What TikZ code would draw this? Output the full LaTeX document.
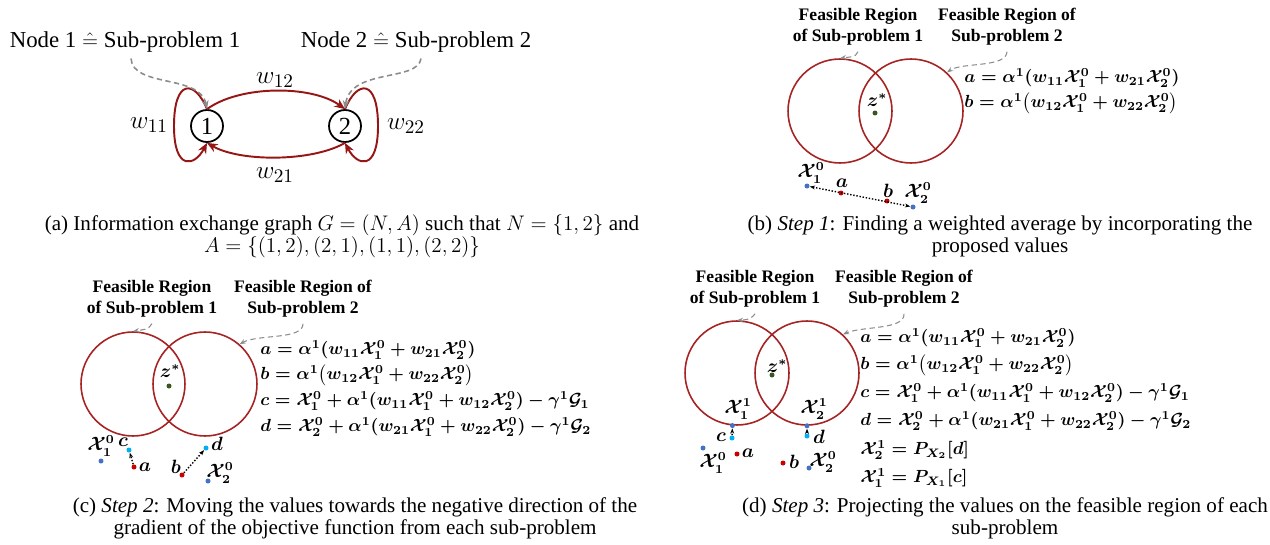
\documentclass[tikz,border=0pt]{standalone}
\usepackage{amsmath,amssymb}
\usepackage{fontspec}
\setmainfont{Liberation Serif}
\usetikzlibrary{arrows.meta,positioning}

\definecolor{arcred}{RGB}{150,22,22}
\definecolor{ringred}{RGB}{165,35,35}
\definecolor{hintgray}{RGB}{140,140,140}
\definecolor{ptblue}{RGB}{68,114,196}
\definecolor{ptcyan}{RGB}{0,176,240}
\definecolor{ptred}{RGB}{205,0,0}
\definecolor{ptgreen}{RGB}{56,87,35}

% shorthand for the proposed values
\newcommand{\Xv}[2]{\mathcal{X}_{#1}^{#2}}
\newcommand{\eqnA}{$a=\alpha^1(w_{11}\Xv{1}{0}+w_{21}\Xv{2}{0})$}
\newcommand{\eqnB}{$b=\alpha^1\bigl(w_{12}\Xv{1}{0}+w_{22}\Xv{2}{0}\bigr)$}
\newcommand{\eqnC}{$c=\Xv{1}{0}+\alpha^1(w_{11}\Xv{1}{0}+w_{12}\Xv{2}{0})-\gamma^1\mathcal{G}_1$}
\newcommand{\eqnD}{$d=\Xv{2}{0}+\alpha^1(w_{21}\Xv{1}{0}+w_{22}\Xv{2}{0})-\gamma^1\mathcal{G}_2$}
\newcommand{\eqnE}{$\Xv{2}{1}=P_{X_2}[d]$}
\newcommand{\eqnF}{$\Xv{1}{1}=P_{X_1}[c]$}

\tikzset{
  capt/.style={font=\fontsize{12}{12.6}\selectfont, align=center},
  regtitle/.style={font=\fontsize{10}{12}\selectfont\bfseries, align=center},
  region/.style={circle, draw=ringred, line width=0.9pt, minimum size=2.08cm, inner sep=0},
  hint/.style={draw=hintgray, densely dashed, line width=0.6pt, -{Stealth[length=3.5pt]}},
  ptdot/.style={circle, fill=#1, inner sep=0, minimum size=0.1cm},
  move/.style={densely dotted, line width=0.8pt, -{Stealth[length=3pt]}},
  eqn/.style={font=\fontsize{10}{12}\selectfont\boldmath, anchor=west, inner sep=0},
  ptlabel/.style={font=\fontsize{10.5}{12}\selectfont\boldmath, inner sep=0},
  gnode/.style={circle, draw, line width=1pt, minimum size=0.64cm, inner sep=0, font=\fontsize{14}{16}\selectfont},
  arc/.style={draw=arcred, line width=1.1pt, -{Stealth[length=6pt,width=5pt]}},
  wlabel/.style={font=\fontsize{15}{17}\selectfont},
}

\begin{document}
\begin{tikzpicture}[x=0.02cm, y=-0.02cm]
  \useasboundingbox (0,0) rectangle (1270,544);

  % (a) information exchange graph
  \node[font=\fontsize{13}{15}\selectfont] (lblN1) at (125,42) {Node 1 $\mathrel{\hat{=}}$ Sub-problem 1};
  \node[font=\fontsize{13}{15}\selectfont] (lblN2) at (416,42) {Node 2 $\mathrel{\hat{=}}$ Sub-problem 2};
  \node[gnode] (n1) at (207,126) {1};
  \node[gnode] (n2) at (345,126) {2};
  \draw[arc] (n1.north) .. controls (240,85) and (312,85) .. (n2.north);
  \draw[arc] (n2.south) .. controls (312,162) and (240,162) .. (n1.south);
  \draw[arc] (n1.north) .. controls (195,80) and (174,78) .. (174,126)
    .. controls (174,172) and (195,166) .. (n1.south);
  \draw[arc] (n2.north) .. controls (357,80) and (378,78) .. (378,126)
    .. controls (378,172) and (357,166) .. (n2.south);
  \node[wlabel] (w12) at (275,80) {$w_{12}$};
  \node[wlabel] (w21) at (275,175) {$w_{21}$};
  \node[wlabel] (w11) at (149,125) {$w_{11}$};
  \node[wlabel] (w22) at (406,126) {$w_{22}$};
  \draw[hint, line width=0.9pt, -{Stealth[length=5pt]}] ([xshift=0.12cm]lblN1.south) .. controls (133,88) and (200,74) .. (n1.north);
  \draw[hint, line width=0.9pt, -{Stealth[length=5pt]}] ([xshift=0.1cm]lblN2.south) .. controls (418,82) and (350,68) .. (n2.north);
  \node[capt] (captA) at (342,236) {(a) Information exchange graph $G=(N,A)$ such that $N=\{1,2\}$ and\\
    $A=\{(1,2),(2,1),(1,1),(2,2)\}$};

  % (b) step 1: weighted average
  \node[regtitle] (ttlB1) at (858,27) {Feasible Region\\of Sub-problem 1};
  \node[regtitle] (ttlB2) at (1007,27) {Feasible Region of\\Sub-problem 2};
  \node[region] (regB1) at (840,111) {};
  \node[region] (regB2) at (911,111) {};
  \draw[hint] (ttlB1.south) .. controls (856,58) and (848,57) .. (regB1.north);
  \draw[hint] (ttlB2.south) .. controls (1006,68) and (962,62) .. (regB2.47);
  \node[ptdot=ptgreen] (zB) at (875,113) {};
  \node[ptlabel] (zlabB) at (877,100) {$z^*$};
  \node[eqn] (eqB1) at (964,78) {\eqnA};
  \node[eqn] (eqB2) at (964,103) {\eqnB};
  \node[ptdot=ptblue] (x1B) at (807,186) {};
  \node[ptdot=ptred] (aB) at (841,193) {};
  \node[ptdot=ptred] (bB) at (887,201) {};
  \node[ptdot=ptblue] (x2B) at (913,207) {};
  \draw[move, {Stealth[length=3pt]}-{Stealth[length=3pt]}] (x1B) -- (x2B);
  \node[ptlabel] (x1labB) at (811,173) {$\Xv{1}{0}$};
  \node[ptlabel] (alabB) at (842,183) {$a$};
  \node[ptlabel] (blabB) at (888,191) {$b$};
  \node[ptlabel] (x2labB) at (918,193) {$\Xv{2}{0}$};
  \node[capt] (captB) at (1000,236) {(b) \textit{Step 1}: Finding a weighted average by incorporating the\\
    proposed values};

  % (c) step 2: gradient move
  \node[regtitle] (ttlC1) at (152,299) {Feasible Region\\of Sub-problem 1};
  \node[regtitle] (ttlC2) at (303,299) {Feasible Region of\\Sub-problem 2};
  \node[region] (regC1) at (133,384) {};
  \node[region] (regC2) at (205,384) {};
  \draw[hint] (ttlC1.south) .. controls (149,330) and (141,330) .. (regC1.north);
  \draw[hint] (ttlC2.south) .. controls (303,340) and (258,334) .. (regC2.49);
  \node[ptdot=ptgreen] (zC) at (169,386) {};
  \node[ptlabel] (zlabC) at (170,371) {$z^*$};
  \foreach \e/\y [count=\k] in {\eqnA/350, \eqnB/375, \eqnC/401, \eqnD/427}
    \node[eqn] (eqC\k) at (260,\y) {\e};
  \node[ptdot=ptblue] (x1C) at (101,461) {};
  \node[ptdot=ptcyan] (cC) at (129,450) {};
  \node[ptdot=ptred] (aC) at (134,467) {};
  \node[ptdot=ptred] (bC) at (182,475) {};
  \node[ptdot=ptcyan] (dC) at (206,448) {};
  \node[ptdot=ptblue] (x2C) at (208,481) {};
  \draw[move] (aC) -- (cC);
  \draw[move] (bC) -- (dC);
  \node[ptlabel] (x1labC) at (101,446) {$\Xv{1}{0}$};
  \node[ptlabel] (clabC) at (123,442) {$c$};
  \node[ptlabel] (alabC) at (145,467) {$a$};
  \node[ptlabel] (blabC) at (176,467) {$b$};
  \node[ptlabel] (dlabC) at (217,444) {$d$};
  \node[ptlabel] (x2labC) at (220,473) {$\Xv{2}{0}$};
  \node[capt] (captC) at (355,518) {(c) \textit{Step 2}: Moving the values towards the negative direction of the\\
    gradient of the objective function from each sub-problem};

  % (d) step 3: projection
  \node[regtitle] (ttlD1) at (755,289) {Feasible Region\\of Sub-problem 1};
  \node[regtitle] (ttlD2) at (904,289) {Feasible Region of\\Sub-problem 2};
  \node[region] (regD1) at (737,373) {};
  \node[region] (regD2) at (807,373) {};
  \draw[hint] (ttlD1.south) .. controls (751,320) and (744,320) .. (regD1.north);
  \draw[hint] (ttlD2.south) .. controls (905,330) and (862,326) .. (regD2.47);
  \node[ptdot=ptgreen] (zD) at (772,375) {};
  \node[ptlabel] (zlabD) at (777,366) {$z^*$};
  \foreach \e/\y [count=\k] in {\eqnA/338, \eqnB/365, \eqnC/393, \eqnD/421, \eqnE/450, \eqnF/478}
    \node[eqn] (eqD\k) at (860,\y) {\e};
  \node[ptdot=ptblue] (x1nD) at (regD1.265) {};
  \node[ptdot=ptblue] (x2nD) at (regD2.south) {};
  \node[ptdot=ptcyan] (cD) at (732,438) {};
  \node[ptdot=ptcyan] (dD) at (807,436) {};
  \node[ptdot=ptblue] (x1D) at (703,448) {};
  \node[ptdot=ptred] (aD) at (737,454) {};
  \node[ptdot=ptred] (bD) at (783,463) {};
  \node[ptdot=ptblue] (x2D) at (809,468) {};
  \draw[move] (cD) -- (x1nD);
  \draw[move] (dD) -- (x2nD);
  \node[ptlabel] (x1nlabD) at (738,409) {$\Xv{1}{1}$};
  \node[ptlabel] (x2nlabD) at (814,409) {$\Xv{2}{1}$};
  \node[ptlabel] (clabD) at (721,437) {$c$};
  \node[ptlabel] (dlabD) at (819,437) {$d$};
  \node[ptlabel] (x1labD) at (713,463) {$\Xv{1}{0}$};
  \node[ptlabel] (alabD) at (748,453) {$a$};
  \node[ptlabel] (blabD) at (794,462) {$b$};
  \node[ptlabel] (x2labD) at (823,462) {$\Xv{2}{0}$};
  \node[capt] (captD) at (1005,518) {(d) \textit{Step 3}: Projecting the values on the feasible region of each\\
    sub-problem};
\end{tikzpicture}
\end{document}
